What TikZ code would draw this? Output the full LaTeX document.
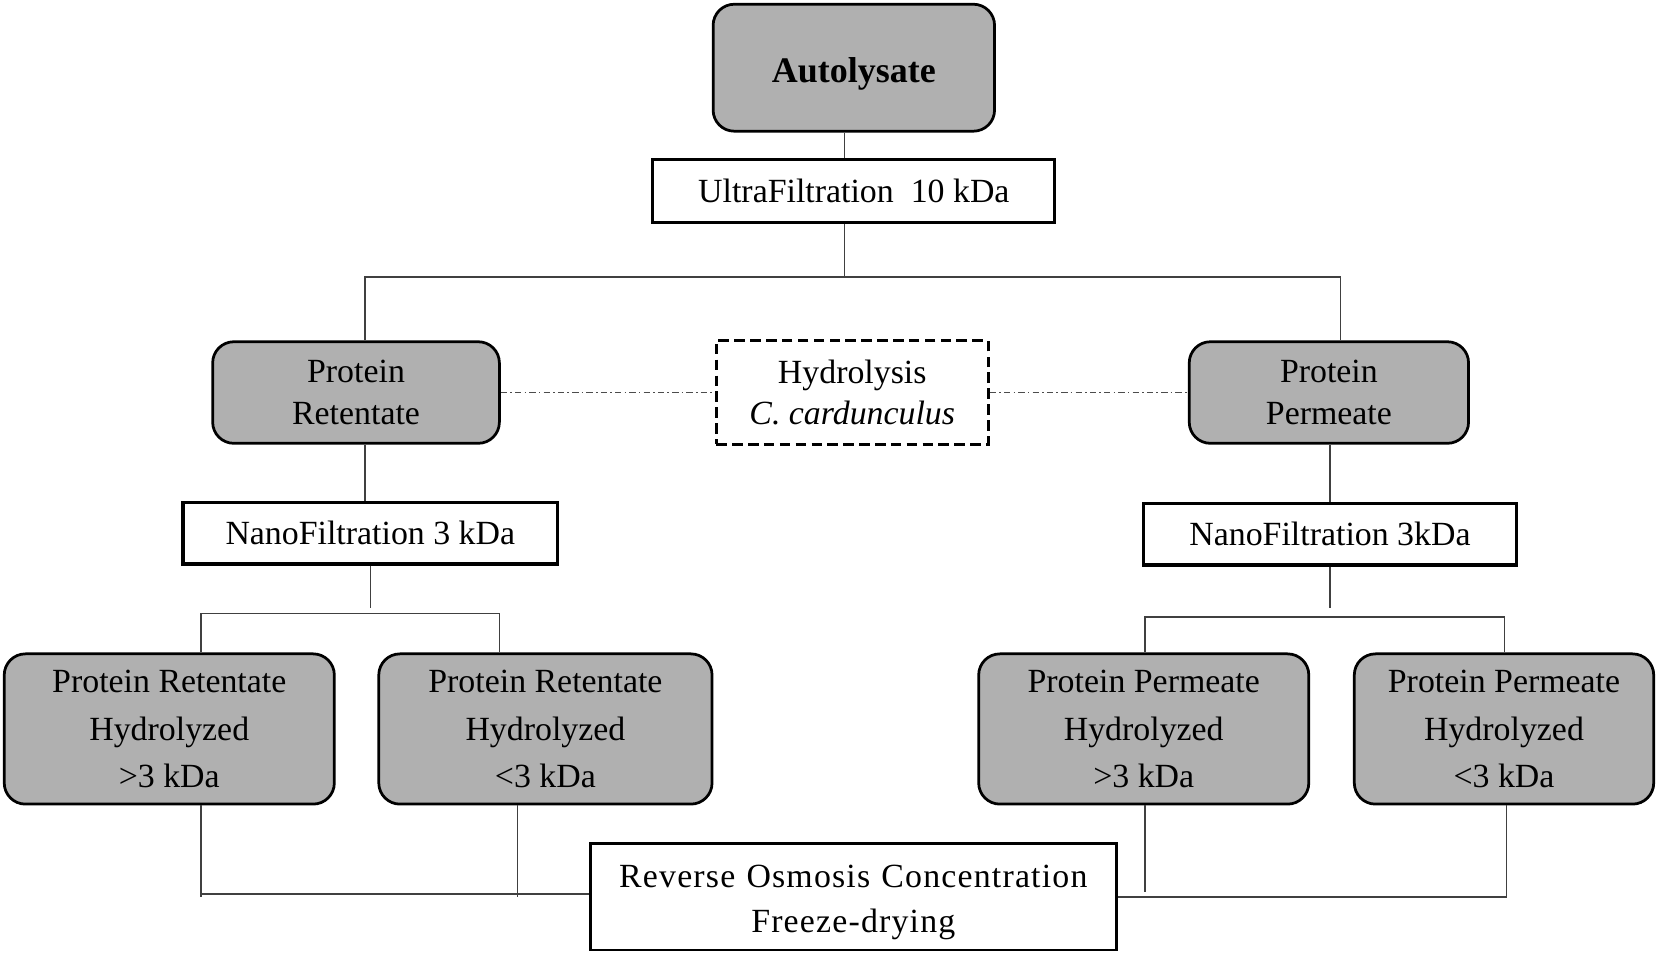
\documentclass[tikz,border=0pt]{standalone}
\usepackage{fontspec}
\setmainfont{Liberation Serif}
\begin{document}
\begin{tikzpicture}[x=1pt,y=-1pt,
  every node/.style={inner sep=0pt, align=center, font=\fontsize{32}{39}\selectfont},
  graybox/.style={draw=black, line width=2.6pt, fill=gray!62, rounded corners=20pt},
  whitebox/.style={draw=black, line width=3pt, fill=white},
  dashbox/.style={draw=black, line width=3pt, fill=white, dash pattern=on 10pt off 5pt},
  conn/.style={draw=black!75, line width=1.4pt},
  dd/.style={draw=black!70, line width=1.1pt, dash pattern=on 6pt off 3pt on 1.5pt off 3pt}]
\useasboundingbox (0,0) rectangle (1568,904);

\node[graybox, minimum width=266pt, minimum height=120pt] (auto) at (807,64) {\raisebox{-6pt}[\height][\depth]{\fontsize{34}{40}\selectfont\textbf{Autolysate}}};
\node[whitebox, minimum width=380pt, minimum height=59pt] (uf) at (807,180.5) {UltraFiltration\hspace{0.5em}10 kDa};

\node[graybox, minimum width=271pt, minimum height=96pt] (pr) at (336.5,371) {Protein\\Retentate};
\node[dashbox, minimum width=257pt, minimum height=98pt] (hy) at (805.5,371) {Hydrolysis\\\textit{C. cardunculus}};
\node[graybox, minimum width=264pt, minimum height=96pt] (pp) at (1256,371) {Protein\\Permeate};

\node[whitebox, minimum width=354pt, minimum height=58pt] (nfl) at (350,504) {NanoFiltration 3 kDa};
\node[whitebox, minimum width=352pt, minimum height=58pt] (nfr) at (1257,505) {NanoFiltration 3kDa};

\begin{scope}[every node/.append style={font=\fontsize{32}{45}\selectfont}]
\node[graybox, minimum width=312pt, minimum height=142pt] (b1) at (160,689) {Protein Retentate\\Hydrolyzed\\>3 kDa};
\node[graybox, minimum width=315pt, minimum height=142pt] (b2) at (515.5,689) {Protein Retentate\\Hydrolyzed\\<3 kDa};
\node[graybox, minimum width=312pt, minimum height=142pt] (b3) at (1081,689) {Protein Permeate\\Hydrolyzed\\>3 kDa};
\node[graybox, minimum width=283pt, minimum height=142pt] (b4) at (1421.5,689) {Protein Permeate\\Hydrolyzed\\<3 kDa};
\end{scope}

\node[whitebox, line width=2.4pt, minimum width=497pt, minimum height=101pt] (ro) at (806.5,847.5) {\raisebox{-4pt}[\height][\depth]{\fontsize{32}{42}\selectfont\addfontfeatures{LetterSpace=3.5}\begin{tabular}{@{}c@{}}Reverse\hspace{0.33em}Osmosis\hspace{0.33em}Concentration\\Freeze-drying\end{tabular}}};

% top
\draw[conn] (auto.south -| 798,0) -- (uf.north -| 798,0);
\coordinate (j1) at (798,262);
\draw[conn] (uf.south -| j1) -- (j1);
\draw[conn] (pr.north -| 345,0) -- (345,262) -- (1267,262) -- (pp.north -| 1267,0);

% hydrolysis links
\draw[dd] (pr.east) -- (hy.west);
\draw[dd] (hy.east) -- (pp.west);

% left branch
\draw[conn] (pr.south -| 345,0) -- (nfl.north -| 345,0);
\coordinate (j2) at (350,575);
\draw[conn] (nfl.south -| j2) -- (j2);
\draw[conn] (b1.north -| 190,0) -- (190,580) -- (472,580) -- (b2.north -| 472,0);

% right branch
\draw[conn] (pp.south -| 1257,0) -- (nfr.north -| 1257,0);
\coordinate (j3) at (1257,575);
\draw[conn] (nfr.south -| j3) -- (j3);
\draw[conn] (b3.north -| 1082,0) -- (1082,583) -- (1422,583) -- (b4.north -| 1422,0);

% bottom
\draw[conn] (b1.south -| 190,0) -- (190,848);
\draw[conn] (b2.south -| 489,0) -- (489,848);
\draw[conn] (190,845) -- (ro.west |- 0,845);
\draw[conn] (b3.south -| 1082,0) -- (1082,843);
\draw[conn] (b4.south -| 1424,0) -- (1424,848) -- (ro.east |- 0,848);
\end{tikzpicture}
\end{document}
